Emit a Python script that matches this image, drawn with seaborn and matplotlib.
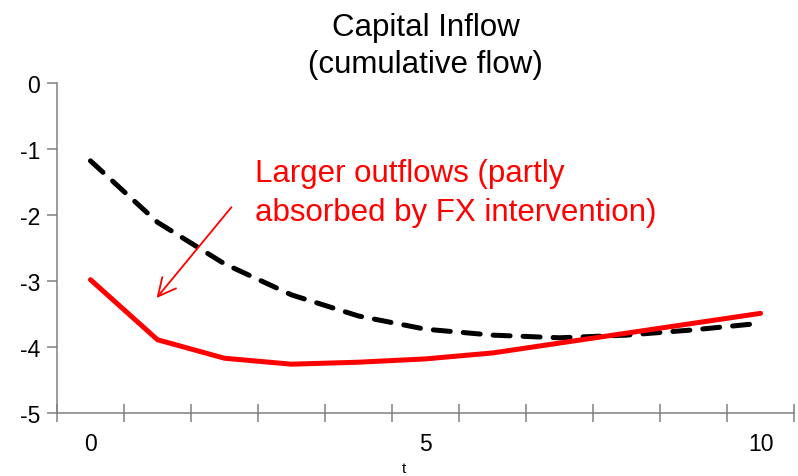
import numpy as np
import pandas as pd
import matplotlib
matplotlib.use('Agg')
import matplotlib.pyplot as plt
from matplotlib.ticker import FixedLocator
import seaborn as sns

sns.set_style('white')
plt.rcParams['font.family'] = ['Liberation Sans', 'DejaVu Sans']
plt.rcParams['text.color'] = 'black'
plt.rcParams['xtick.color'] = 'black'
plt.rcParams['ytick.color'] = 'black'

# data
t = list(range(11))
with_fx = [-2.98, -3.89, -4.17, -4.26, -4.23, -4.18, -4.09, -3.94, -3.79, -3.64, -3.49]
baseline = [-1.18, -2.11, -2.74, -3.21, -3.53, -3.73, -3.82, -3.86, -3.82, -3.74, -3.64]
xlabels = ['0', '5', '10']

df = pd.DataFrame({'t': t, 'with_fx': with_fx, 'baseline': baseline})

fig = plt.figure(figsize=(7.98, 4.77), dpi=100)
ax = fig.add_axes([0.0714, 0.132, 0.9236, 0.692])

sns.lineplot(data=df, x='t', y='baseline', ax=ax, color='black', lw=3.6,
             dash_capstyle='round')
ax.lines[-1].set_dashes((3.4, 2.6))
sns.lineplot(data=df, x='t', y='with_fx', ax=ax, color='#ff0000', lw=3.6)

ax.set_xlim(-0.5, 10.5)
ax.set_ylim(-5, 0)
ax.set_yticks(np.arange(-5, 1, 1))
ax.set_yticklabels([str(v) for v in range(-5, 1)])
ax.set_xticks([0, 5, 10])
ax.set_xticklabels(xlabels)
ax.xaxis.set_minor_locator(FixedLocator(np.arange(-0.5, 11, 1)))
ax.tick_params(axis='x', which='major', length=0, pad=14, labelsize=16.5,
               bottom=True)
ax.tick_params(axis='x', which='minor', length=13, direction='inout',
               color='#808080', width=1.1, bottom=True)
ax.tick_params(axis='y', which='major', length=7, direction='out',
               color='#808080', width=1.1, pad=5, labelsize=16.5, left=True)
for s in ['top', 'right']:
    ax.spines[s].set_visible(False)
for s in ['left', 'bottom']:
    ax.spines[s].set_color('#808080')
    ax.spines[s].set_linewidth(1.1)
ax.set_xlabel('')
ax.set_ylabel('')

ax.set_title('Capital Inflow\n(cumulative flow)', fontsize=22.5, pad=8,
             linespacing=1.28, color='black')

ax.annotate('', xy=(0.96, -3.29), xytext=(2.13, -1.85),
            arrowprops=dict(arrowstyle='->', color='#ff0000', lw=1.3,
                            mutation_scale=32))
ax.text(2.45, -1.66, 'Larger outflows (partly\nabsorbed by FX intervention)',
        color='#ff0000', fontsize=22.5, ha='left', va='center', linespacing=1.42)

fig.text(404 / 798, 0.002, 't', fontsize=11, ha='center', va='bottom')

fig.savefig('out.png', dpi=100)
